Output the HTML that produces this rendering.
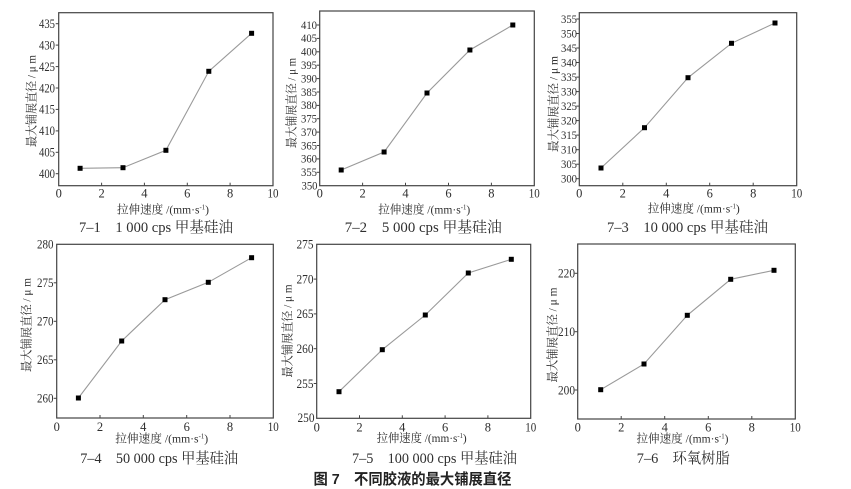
<!DOCTYPE html>
<html><head><meta charset="utf-8">
<style>
html,body{margin:0;padding:0;background:#fff;}
svg{display:block;}
.t{font-family:"Liberation Serif","Noto Serif CJK SC",serif;fill:#2f2f2f;}
.tk{font-size:12.5px;}
.tk2{font-size:11.5px;}
.ax{fill:none;stroke:#444;stroke-width:1.2;}
.tick{stroke:#444;stroke-width:1;}
.ln{fill:none;stroke:#9a9a9a;stroke-width:1.1;}
.mk{fill:#000;}
.ttl{font-size:12px;}
.cap{font-size:15px;}
.fig{font-family:"Liberation Sans","Noto Sans CJK SC",sans-serif;font-weight:bold;font-size:15px;fill:#222;}
</style></head>
<body>
<svg width="851" height="489" viewBox="0 0 851 489" xmlns="http://www.w3.org/2000/svg">

<!-- ================= Plot 1 ================= -->
<rect class="ax" x="58.7" y="12.7" width="214.3" height="173"/>
<g class="tick">
<line x1="101.6" y1="185.7" x2="101.6" y2="182.7"/><line x1="144.4" y1="185.7" x2="144.4" y2="182.7"/>
<line x1="187.3" y1="185.7" x2="187.3" y2="182.7"/><line x1="230.1" y1="185.7" x2="230.1" y2="182.7"/>
<line x1="58.7" y1="173.7" x2="55.7" y2="173.7"/><line x1="58.7" y1="152.3" x2="55.7" y2="152.3"/>
<line x1="58.7" y1="130.9" x2="55.7" y2="130.9"/><line x1="58.7" y1="109.4" x2="55.7" y2="109.4"/>
<line x1="58.7" y1="88" x2="55.7" y2="88"/><line x1="58.7" y1="66.6" x2="55.7" y2="66.6"/>
<line x1="58.7" y1="45.1" x2="55.7" y2="45.1"/><line x1="58.7" y1="23.7" x2="55.7" y2="23.7"/>
</g>
<g class="t tk" text-anchor="middle">
<text x="58.7" y="197.5">0</text><text x="101.6" y="197.5">2</text><text x="144.4" y="197.5">4</text>
<text x="187.3" y="197.5">6</text><text x="230.1" y="197.5">8</text><text x="273" y="197.5" textLength="11" lengthAdjust="spacingAndGlyphs">10</text>
</g>
<g class="t tk" text-anchor="end">
<text x="55" y="178" textLength="16" lengthAdjust="spacingAndGlyphs">400</text><text x="55" y="156.6" textLength="16" lengthAdjust="spacingAndGlyphs">405</text><text x="55" y="135.2" textLength="16" lengthAdjust="spacingAndGlyphs">410</text>
<text x="55" y="113.7" textLength="16" lengthAdjust="spacingAndGlyphs">415</text><text x="55" y="92.3" textLength="16" lengthAdjust="spacingAndGlyphs">420</text><text x="55" y="70.9" textLength="16" lengthAdjust="spacingAndGlyphs">425</text>
<text x="55" y="49.4" textLength="16" lengthAdjust="spacingAndGlyphs">430</text><text x="55" y="28" textLength="16" lengthAdjust="spacingAndGlyphs">435</text>
</g>
<polyline class="ln" points="80.1,168.3 123,167.7 165.9,150.3 208.8,71.3 251.6,33.3"/>
<g class="mk">
<rect x="77.6" y="165.8" width="5" height="5"/><rect x="120.5" y="165.2" width="5" height="5"/>
<rect x="163.4" y="147.8" width="5" height="5"/><rect x="206.3" y="68.8" width="5" height="5"/>
<rect x="249.1" y="30.8" width="5" height="5"/>
</g>
<text class="t ttl" x="0" y="0" transform="translate(31.5,101) rotate(-90)" text-anchor="middle" dominant-baseline="central" textLength="92" lengthAdjust="spacingAndGlyphs">最大铺展直径 / μ m</text>
<text class="t ttl" x="163" y="213.5" text-anchor="middle" textLength="92" lengthAdjust="spacingAndGlyphs">拉伸速度 /(mm·s<tspan font-size="7" dy="-4">-1</tspan><tspan dy="4">)</tspan></text>
<text class="t cap" x="156" y="232" text-anchor="middle" textLength="154" lengthAdjust="spacingAndGlyphs">7–1　1 000 cps 甲基硅油</text>

<!-- ================= Plot 2 ================= -->
<rect class="ax" x="319.7" y="11" width="214.6" height="174.7"/>
<g class="tick">
<line x1="362.6" y1="185.7" x2="362.6" y2="182.7"/><line x1="405.5" y1="185.7" x2="405.5" y2="182.7"/>
<line x1="448.5" y1="185.7" x2="448.5" y2="182.7"/><line x1="491.4" y1="185.7" x2="491.4" y2="182.7"/>
<line x1="319.7" y1="172.3" x2="316.7" y2="172.3"/><line x1="319.7" y1="158.9" x2="316.7" y2="158.9"/>
<line x1="319.7" y1="145.5" x2="316.7" y2="145.5"/><line x1="319.7" y1="132.1" x2="316.7" y2="132.1"/>
<line x1="319.7" y1="118.7" x2="316.7" y2="118.7"/><line x1="319.7" y1="105.4" x2="316.7" y2="105.4"/>
<line x1="319.7" y1="92" x2="316.7" y2="92"/><line x1="319.7" y1="78.6" x2="316.7" y2="78.6"/>
<line x1="319.7" y1="65.2" x2="316.7" y2="65.2"/><line x1="319.7" y1="51.8" x2="316.7" y2="51.8"/>
<line x1="319.7" y1="38.4" x2="316.7" y2="38.4"/><line x1="319.7" y1="25" x2="316.7" y2="25"/>
</g>
<g class="t tk" text-anchor="middle">
<text x="319.7" y="197.5">0</text><text x="362.6" y="197.5">2</text><text x="405.5" y="197.5">4</text>
<text x="448.5" y="197.5">6</text><text x="491.4" y="197.5">8</text><text x="534.3" y="197.5" textLength="11" lengthAdjust="spacingAndGlyphs">10</text>
</g>
<g class="t tk2" text-anchor="end">
<text x="317.5" y="189.5" textLength="16" lengthAdjust="spacingAndGlyphs">350</text><text x="317" y="176.1" textLength="16" lengthAdjust="spacingAndGlyphs">355</text><text x="317" y="162.7" textLength="16" lengthAdjust="spacingAndGlyphs">360</text>
<text x="317" y="149.3" textLength="16" lengthAdjust="spacingAndGlyphs">365</text><text x="317" y="135.9" textLength="16" lengthAdjust="spacingAndGlyphs">370</text><text x="317" y="122.5" textLength="16" lengthAdjust="spacingAndGlyphs">375</text>
<text x="317" y="109.2" textLength="16" lengthAdjust="spacingAndGlyphs">380</text><text x="317" y="95.8" textLength="16" lengthAdjust="spacingAndGlyphs">385</text><text x="317" y="82.4" textLength="16" lengthAdjust="spacingAndGlyphs">390</text>
<text x="317" y="69" textLength="16" lengthAdjust="spacingAndGlyphs">395</text><text x="317" y="55.6" textLength="16" lengthAdjust="spacingAndGlyphs">400</text><text x="317" y="42.2" textLength="16" lengthAdjust="spacingAndGlyphs">405</text>
<text x="317" y="28.8" textLength="16" lengthAdjust="spacingAndGlyphs">410</text>
</g>
<polyline class="ln" points="341.2,170 384.1,152 427,93 469.9,50 512.8,25"/>
<g class="mk">
<rect x="338.7" y="167.5" width="5" height="5"/><rect x="381.6" y="149.5" width="5" height="5"/>
<rect x="424.5" y="90.5" width="5" height="5"/><rect x="467.4" y="47.5" width="5" height="5"/>
<rect x="510.3" y="22.5" width="5" height="5"/>
</g>
<text class="t ttl" x="0" y="0" transform="translate(291.5,103) rotate(-90)" text-anchor="middle" dominant-baseline="central" textLength="90" lengthAdjust="spacingAndGlyphs">最大铺展直径 / μ m</text>
<text class="t ttl" x="424.2" y="213.5" text-anchor="middle" textLength="92" lengthAdjust="spacingAndGlyphs">拉伸速度 /(mm·s<tspan font-size="7" dy="-4">-1</tspan><tspan dy="4">)</tspan></text>
<text class="t cap" x="423.3" y="232" text-anchor="middle" textLength="157" lengthAdjust="spacingAndGlyphs">7–2　5 000 cps 甲基硅油</text>

<!-- ================= Plot 3 ================= -->
<rect class="ax" x="579.3" y="12.7" width="217.4" height="173"/>
<g class="tick">
<line x1="622.8" y1="185.7" x2="622.8" y2="182.7"/><line x1="666.3" y1="185.7" x2="666.3" y2="182.7"/>
<line x1="709.7" y1="185.7" x2="709.7" y2="182.7"/><line x1="753.2" y1="185.7" x2="753.2" y2="182.7"/>
<line x1="579.3" y1="178.7" x2="576.3" y2="178.7"/><line x1="579.3" y1="164.2" x2="576.3" y2="164.2"/>
<line x1="579.3" y1="149.7" x2="576.3" y2="149.7"/><line x1="579.3" y1="135.1" x2="576.3" y2="135.1"/>
<line x1="579.3" y1="120.6" x2="576.3" y2="120.6"/><line x1="579.3" y1="106.1" x2="576.3" y2="106.1"/>
<line x1="579.3" y1="91.6" x2="576.3" y2="91.6"/><line x1="579.3" y1="77.1" x2="576.3" y2="77.1"/>
<line x1="579.3" y1="62.5" x2="576.3" y2="62.5"/><line x1="579.3" y1="48" x2="576.3" y2="48"/>
<line x1="579.3" y1="33.5" x2="576.3" y2="33.5"/><line x1="579.3" y1="19" x2="576.3" y2="19"/>
</g>
<g class="t tk" text-anchor="middle">
<text x="579.3" y="197.5">0</text><text x="622.8" y="197.5">2</text><text x="666.3" y="197.5">4</text>
<text x="709.7" y="197.5">6</text><text x="753.2" y="197.5">8</text><text x="796.7" y="197.5" textLength="11" lengthAdjust="spacingAndGlyphs">10</text>
</g>
<g class="t tk2" text-anchor="end">
<text x="577" y="182.5" textLength="16" lengthAdjust="spacingAndGlyphs">300</text><text x="577" y="168" textLength="16" lengthAdjust="spacingAndGlyphs">305</text><text x="577" y="153.5" textLength="16" lengthAdjust="spacingAndGlyphs">310</text>
<text x="577" y="138.9" textLength="16" lengthAdjust="spacingAndGlyphs">315</text><text x="577" y="124.4" textLength="16" lengthAdjust="spacingAndGlyphs">320</text><text x="577" y="109.9" textLength="16" lengthAdjust="spacingAndGlyphs">325</text>
<text x="577" y="95.4" textLength="16" lengthAdjust="spacingAndGlyphs">330</text><text x="577" y="80.9" textLength="16" lengthAdjust="spacingAndGlyphs">335</text><text x="577" y="66.3" textLength="16" lengthAdjust="spacingAndGlyphs">340</text>
<text x="577" y="51.8" textLength="16" lengthAdjust="spacingAndGlyphs">345</text><text x="577" y="37.3" textLength="16" lengthAdjust="spacingAndGlyphs">350</text><text x="577" y="22.8" textLength="16" lengthAdjust="spacingAndGlyphs">355</text>
</g>
<polyline class="ln" points="601,168 644.5,127.7 688,77.7 731.5,43.3 775,23"/>
<g class="mk">
<rect x="598.5" y="165.5" width="5" height="5"/><rect x="642" y="125.2" width="5" height="5"/>
<rect x="685.5" y="75.2" width="5" height="5"/><rect x="729" y="40.8" width="5" height="5"/>
<rect x="772.5" y="20.5" width="5" height="5"/>
</g>
<text class="t ttl" x="0" y="0" transform="translate(553.5,104) rotate(-90)" text-anchor="middle" dominant-baseline="central" textLength="96" lengthAdjust="spacingAndGlyphs">最大铺展直径 / μ m</text>
<text class="t ttl" x="693.7" y="212.5" text-anchor="middle" textLength="92" lengthAdjust="spacingAndGlyphs">拉伸速度 /(mm·s<tspan font-size="7" dy="-4">-1</tspan><tspan dy="4">)</tspan></text>
<text class="t cap" x="687.5" y="232" text-anchor="middle" textLength="161" lengthAdjust="spacingAndGlyphs">7–3　10 000 cps 甲基硅油</text>

<!-- ================= Plot 4 ================= -->
<rect class="ax" x="56.7" y="244.3" width="216.6" height="173.7"/>
<g class="tick">
<line x1="100" y1="418" x2="100" y2="415"/><line x1="143.3" y1="418" x2="143.3" y2="415"/>
<line x1="186.7" y1="418" x2="186.7" y2="415"/><line x1="230" y1="418" x2="230" y2="415"/>
<line x1="56.7" y1="398.3" x2="53.7" y2="398.3"/><line x1="56.7" y1="359.8" x2="53.7" y2="359.8"/>
<line x1="56.7" y1="321.3" x2="53.7" y2="321.3"/><line x1="56.7" y1="282.8" x2="53.7" y2="282.8"/>
</g>
<g class="t tk" text-anchor="middle">
<text x="56.7" y="430.8">0</text><text x="100" y="430.8">2</text><text x="143.3" y="430.8">4</text>
<text x="186.7" y="430.8">6</text><text x="230" y="430.8">8</text><text x="273.3" y="430.8" textLength="11" lengthAdjust="spacingAndGlyphs">10</text>
</g>
<g class="t tk" text-anchor="end">
<text x="53.5" y="402.6" textLength="16.5" lengthAdjust="spacingAndGlyphs">260</text><text x="53.5" y="364.1" textLength="16.5" lengthAdjust="spacingAndGlyphs">265</text><text x="53.5" y="325.6" textLength="16.5" lengthAdjust="spacingAndGlyphs">270</text>
<text x="53.5" y="287.1" textLength="16.5" lengthAdjust="spacingAndGlyphs">275</text><text x="53.5" y="248.6" textLength="16.5" lengthAdjust="spacingAndGlyphs">280</text>
</g>
<polyline class="ln" points="78.4,398 121.7,341 165,299.7 208.3,282.3 251.6,257.7"/>
<g class="mk">
<rect x="75.9" y="395.5" width="5" height="5"/><rect x="119.2" y="338.5" width="5" height="5"/>
<rect x="162.5" y="297.2" width="5" height="5"/><rect x="205.8" y="279.8" width="5" height="5"/>
<rect x="249.1" y="255.2" width="5" height="5"/>
</g>
<text class="t ttl" x="0" y="0" transform="translate(26.7,325) rotate(-90)" text-anchor="middle" dominant-baseline="central" textLength="94" lengthAdjust="spacingAndGlyphs">最大铺展直径 / μ m</text>
<text class="t ttl" x="161.7" y="442.5" text-anchor="middle" textLength="93" lengthAdjust="spacingAndGlyphs">拉伸速度 /(mm·s<tspan font-size="7" dy="-4">-1</tspan><tspan dy="4">)</tspan></text>
<text class="t cap" x="159.2" y="463" text-anchor="middle" textLength="158" lengthAdjust="spacingAndGlyphs">7–4　50 000 cps 甲基硅油</text>

<!-- ================= Plot 5 ================= -->
<rect class="ax" x="316.7" y="244.3" width="214" height="174"/>
<g class="tick">
<line x1="359.5" y1="418.3" x2="359.5" y2="415.3"/><line x1="402.3" y1="418.3" x2="402.3" y2="415.3"/>
<line x1="445.1" y1="418.3" x2="445.1" y2="415.3"/><line x1="487.9" y1="418.3" x2="487.9" y2="415.3"/>
<line x1="316.7" y1="383.5" x2="313.7" y2="383.5"/><line x1="316.7" y1="348.7" x2="313.7" y2="348.7"/>
<line x1="316.7" y1="313.9" x2="313.7" y2="313.9"/><line x1="316.7" y1="279.1" x2="313.7" y2="279.1"/>
</g>
<g class="t tk" text-anchor="middle">
<text x="316.7" y="431.3">0</text><text x="359.5" y="431.3">2</text><text x="402.3" y="431.3">4</text>
<text x="445.1" y="431.3">6</text><text x="487.9" y="431.3">8</text><text x="530.7" y="431.3" textLength="11" lengthAdjust="spacingAndGlyphs">10</text>
</g>
<g class="t tk" text-anchor="end">
<text x="314.5" y="422" textLength="17" lengthAdjust="spacingAndGlyphs">250</text><text x="313.5" y="387.8" textLength="17" lengthAdjust="spacingAndGlyphs">255</text><text x="313.5" y="353" textLength="17" lengthAdjust="spacingAndGlyphs">260</text>
<text x="313.5" y="318.2" textLength="17" lengthAdjust="spacingAndGlyphs">265</text><text x="313.5" y="283.4" textLength="17" lengthAdjust="spacingAndGlyphs">270</text><text x="313.5" y="248.6" textLength="17" lengthAdjust="spacingAndGlyphs">275</text>
</g>
<polyline class="ln" points="339,391.7 382.3,349.7 425.3,315 468.3,273 511.3,259.3"/>
<g class="mk">
<rect x="336.5" y="389.2" width="5" height="5"/><rect x="379.8" y="347.2" width="5" height="5"/>
<rect x="422.8" y="312.5" width="5" height="5"/><rect x="465.8" y="270.5" width="5" height="5"/>
<rect x="508.8" y="256.8" width="5" height="5"/>
</g>
<text class="t ttl" x="0" y="0" transform="translate(287.3,331) rotate(-90)" text-anchor="middle" dominant-baseline="central" textLength="93" lengthAdjust="spacingAndGlyphs">最大铺展直径 / μ m</text>
<text class="t ttl" x="421.7" y="442" text-anchor="middle" textLength="90" lengthAdjust="spacingAndGlyphs">拉伸速度 /(mm·s<tspan font-size="7" dy="-4">-1</tspan><tspan dy="4">)</tspan></text>
<text class="t cap" x="434.5" y="463" text-anchor="middle" textLength="165" lengthAdjust="spacingAndGlyphs">7–5　100 000 cps 甲基硅油</text>

<!-- ================= Plot 6 ================= -->
<rect class="ax" x="577.7" y="244" width="217.6" height="175"/>
<g class="tick">
<line x1="621.2" y1="419" x2="621.2" y2="416"/><line x1="664.7" y1="419" x2="664.7" y2="416"/>
<line x1="708.3" y1="419" x2="708.3" y2="416"/><line x1="751.8" y1="419" x2="751.8" y2="416"/>
<line x1="577.7" y1="390" x2="574.7" y2="390"/><line x1="577.7" y1="331.7" x2="574.7" y2="331.7"/>
<line x1="577.7" y1="273.3" x2="574.7" y2="273.3"/>
</g>
<g class="t tk" text-anchor="middle">
<text x="577.7" y="431.3">0</text><text x="621.2" y="431.3">2</text><text x="664.7" y="431.3">4</text>
<text x="708.3" y="431.3">6</text><text x="751.8" y="431.3">8</text><text x="795.3" y="431.3" textLength="11" lengthAdjust="spacingAndGlyphs">10</text>
</g>
<g class="t tk" text-anchor="end">
<text x="575" y="394.3" textLength="17" lengthAdjust="spacingAndGlyphs">200</text><text x="575" y="336" textLength="17" lengthAdjust="spacingAndGlyphs">210</text><text x="575" y="277.6" textLength="17" lengthAdjust="spacingAndGlyphs">220</text>
</g>
<polyline class="ln" points="600.7,389.7 644,364 687.3,315.3 730.7,279.3 774,270.3"/>
<g class="mk">
<rect x="598.2" y="387.2" width="5" height="5"/><rect x="641.5" y="361.5" width="5" height="5"/>
<rect x="684.8" y="312.8" width="5" height="5"/><rect x="728.2" y="276.8" width="5" height="5"/>
<rect x="771.5" y="267.8" width="5" height="5"/>
</g>
<text class="t ttl" x="0" y="0" transform="translate(552.5,335) rotate(-90)" text-anchor="middle" dominant-baseline="central" textLength="95" lengthAdjust="spacingAndGlyphs">最大铺展直径 / μ m</text>
<text class="t ttl" x="682.5" y="442.3" text-anchor="middle" textLength="92" lengthAdjust="spacingAndGlyphs">拉伸速度 /(mm·s<tspan font-size="7" dy="-4">-1</tspan><tspan dy="4">)</tspan></text>
<text class="t cap" x="683.3" y="463" text-anchor="middle" textLength="93" lengthAdjust="spacingAndGlyphs">7–6　环氧树脂</text>

<!-- Figure caption -->
<text class="fig" x="412.5" y="484" text-anchor="middle" textLength="198" lengthAdjust="spacingAndGlyphs">图 7　不同胶液的最大铺展直径</text>
</svg>
</body></html>
